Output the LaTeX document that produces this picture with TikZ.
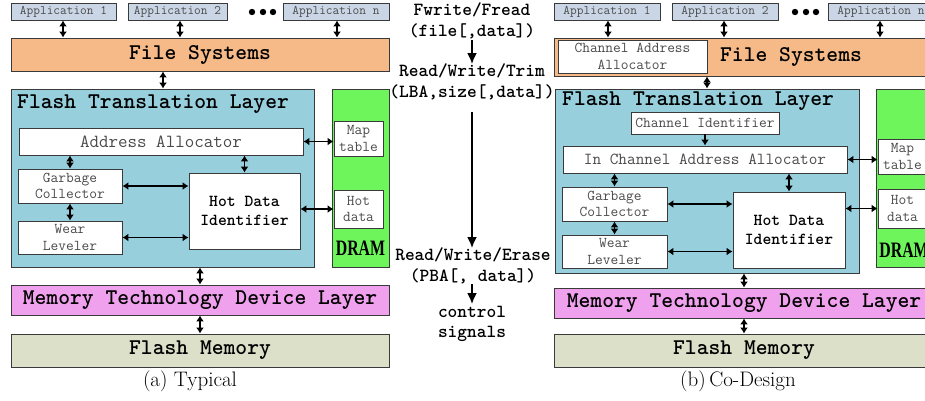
\documentclass[tikz,border=0pt]{standalone}
\usepackage{graphicx}
\usepackage{fontspec}
\newfontfamily\dramfont{Liberation Serif}
\usetikzlibrary{arrows.meta}

\definecolor{edge}{HTML}{3A3A3A}
\definecolor{appfill}{HTML}{CAD6E6}
\definecolor{fsfill}{HTML}{F6BA88}
\definecolor{ftlfill}{HTML}{97CFDD}
\definecolor{dramfill}{HTML}{6EF55C}
\definecolor{mtdfill}{HTML}{F0A1EE}
\definecolor{fmfill}{HTML}{DDE0C8}
\definecolor{softtext}{HTML}{4A4A4A}

% box from corner (x1,y1) to corner (x2,y2), y measured downwards
\newcommand\rbox[7]{%
  \node[#6, minimum width={(#4)-(#2)}, minimum height={(#5)-(#3)}]
    (#1) at ({((#2)+(#4))/2},{((#3)+(#5))/2}) {#7};}

\tikzset{
  box/.style={draw=edge, line width=0.9pt, inner sep=0pt, align=center},
  appbox/.style={box, fill=appfill, text=softtext,
    font=\ttfamily\fontsize{13}{14}\selectfont},
  layerbox/.style={box, font=\ttfamily\bfseries\fontsize{22.5}{24}\selectfont},
  titletext/.style={inner sep=0pt, font=\ttfamily\bfseries\fontsize{22.5}{24}\selectfont},
  inbox/.style={box, fill=white, text=softtext,
    font=\ttfamily\fontsize{15}{16.5}\selectfont},
  hdibox/.style={box, fill=white,
    font=\ttfamily\bfseries\fontsize{16.8}{19}\selectfont},
  dramtext/.style={inner sep=0pt, font=\dramfont\bfseries\fontsize{22}{22}\selectfont},
  dbl/.style={{Latex[length=6pt,width=8pt]}-{Latex[length=6pt,width=8pt]},
    line width=1.5pt},
  sgl/.style={-{Latex[length=6pt,width=8pt]}, line width=1.5pt},
  flow/.style={-{Latex[length=11pt,width=10pt]}, line width=1.8pt},
  midtext/.style={inner sep=0pt, align=center,
    font=\ttfamily\bfseries\fontsize{18.5}{20.5}\selectfont},
  caption/.style={inner sep=0pt, font=\fontsize{21}{23}\selectfont},
  dot/.style={fill=black}
}

\begin{document}
\begin{tikzpicture}[x=1pt, y=-1pt]
\useasboundingbox (0,0) rectangle (925,400);
\begin{scope}
\clip (0,0) rectangle (925,400);

% ---------------- (a) Typical ----------------
\rbox{app1}{11}{3}{116}{20}{appbox}{Application 1}
\rbox{app2}{128}{3}{227}{20}{appbox}{Application 2}
\rbox{appn}{283}{3}{389}{20}{appbox}{Application n}
\foreach \dx in {252,263,273} \fill[dot] (\dx,12) circle (3.2);

\rbox{fs}{11}{38}{389}{71}{layerbox, fill=fsfill}{File Systems}

\rbox{ftl}{11}{89}{314}{267}{box, fill=ftlfill}{}
\node[titletext, anchor=west] (ftlT) at (17,104) {Flash Translation Layer};
\rbox{aa}{19}{128}{303}{155}{inbox, font=\ttfamily\fontsize{18.5}{20}\selectfont}{Address Allocator}
\rbox{gc}{18}{169}{122}{203}{inbox}{Garbage\\Collector}
\rbox{wl}{18}{221}{122}{254}{inbox}{Wear\\Leveler}
\rbox{hdi}{189}{173}{300}{249}{hdibox}{Hot Data\\Identifier}

\rbox{dram}{332}{89}{389}{267}{box, fill=dramfill}{}
\rbox{map}{334}{121}{383}{156}{inbox}{Map\\table}
\rbox{hot}{334}{190}{383}{228}{inbox}{Hot\\data}
\node[dramtext] (dramT) at (360.5,248) {\scalebox{0.72}[1]{DRAM}};

\rbox{mtd}{11}{285}{389}{315}{layerbox, fill=mtdfill}{Memory Technology Device Layer}
\rbox{fm}{11}{334}{389}{367}{layerbox, fill=fmfill}{Flash Memory}
\node[caption] (capA) at (190,381) {(a) Typical};

\draw[dbl] (63,0 |- app1.south) -- (63,0 |- fs.north);
\draw[dbl] (180,0 |- app2.south) -- (180,0 |- fs.north);
\draw[dbl] (337,0 |- appn.south) -- (337,0 |- fs.north);
\draw[dbl] (163,0 |- fs.south) -- (163,0 |- ftl.north);
\draw[dbl] (gc.north) -- (gc.north |- aa.south);
\draw[dbl] (gc.south) -- (wl.north);
\draw[dbl] (hdi.north) -- (hdi.north |- aa.south);
\draw[dbl] (gc.east) -- (gc.east -| hdi.west);
\draw[dbl] (wl.east) -- (wl.east -| hdi.west);
\draw[dbl] (aa.east) -- (aa.east -| map.west);
\draw[dbl] (hot.west -| hdi.east) -- (hot.west);
\draw[dbl] (200,0 |- ftl.south) -- (200,0 |- mtd.north);
\draw[dbl] (200,0 |- mtd.south) -- (200,0 |- fm.north);

% ---------------- interface commands ----------------
\node[midtext] (cmdA) at (472,21) {Fwrite/Fread\\(file[,data])};
\node[midtext] (cmdB) at (472,82) {Read/Write/Trim\\(LBA,size[,data])};
\node[midtext] (cmdC) at (473,266) {Read/Write/Erase\\(PBA[, data])};
\node[midtext] (cmdD) at (472,324) {control\\signals};
\coordinate (fA) at (472,40);
\coordinate (fB) at (472,64);
\coordinate (fC) at (472,112);
\coordinate (fD) at (472,248);
\coordinate (fE) at (472,284);
\coordinate (fF) at (472,304);
\draw[flow] (fA) -- (fB);
\draw[flow] (fC) -- (fD);
\draw[flow] (fE) -- (fF);

% ---------------- (b) Co-Design ----------------
\rbox{rapp1}{554}{3}{660}{20}{appbox}{Application 1}
\rbox{rapp2}{672}{3}{778}{20}{appbox}{Application 2}
\rbox{rappn}{828}{3}{934}{20}{appbox}{Application n}
\foreach \dx in {795,806,816} \fill[dot] (\dx,12) circle (3.2);

\rbox{rfs}{554}{38}{934}{76}{box, fill=fsfill}{}
\rbox{rcaa}{558}{40}{707}{73}{inbox}{Channel Address\\Allocator}
\node[titletext] (rfsT) at (791,57) {File Systems};

\rbox{rftl}{555}{89}{859}{273}{box, fill=ftlfill}{}
\node[titletext, anchor=west] (rftlT) at (562,101) {Flash Translation Layer};
\rbox{rci}{631}{112}{779}{134}{inbox}{Channel Identifier}
\rbox{ricaa}{563}{146}{847}{173}{inbox, font=\ttfamily\fontsize{16.8}{18}\selectfont}{In Channel Address Allocator}
\rbox{rgc}{562}{187}{667}{221}{inbox}{Garbage\\Collector}
\rbox{rwl}{562}{235}{667}{268}{inbox}{Wear\\Leveler}
\rbox{rhdi}{733}{192}{845}{268}{hdibox}{Hot Data\\Identifier}

\rbox{rdram}{876}{89}{934}{267}{box, fill=dramfill}{}
\rbox{rmap}{878}{139}{927}{174}{inbox}{Map\\table}
\rbox{rhot}{878}{189}{927}{228}{inbox}{Hot\\data}
\node[dramtext] (rdramT) at (904,250) {\scalebox{0.72}[1]{DRAM}};

\rbox{rmtd}{554}{288}{934}{318}{layerbox, fill=mtdfill}{Memory Technology Device Layer}
\rbox{rfm}{554}{334}{934}{367}{layerbox, fill=fmfill}{Flash Memory}
\node[caption] (capB) at (738,381) {(b)\,Co-Design};

\draw[dbl] (608,0 |- rapp1.south) -- (608,0 |- rfs.north);
\draw[dbl] (724,0 |- rapp2.south) -- (724,0 |- rfs.north);
\draw[dbl] (880,0 |- rappn.south) -- (880,0 |- rfs.north);
\draw[dbl] (707,0 |- rfs.south) -- (707,0 |- rftl.north);
\draw[sgl] (rci.south) -- (rci.south |- ricaa.north);
\draw[dbl] (rgc.north) -- (rgc.north |- ricaa.south);
\draw[dbl] (rgc.south) -- (rwl.north);
\draw[dbl] (rhdi.north) -- (rhdi.north |- ricaa.south);
\draw[dbl] (rgc.east) -- (rgc.east -| rhdi.west);
\draw[dbl] (rwl.east) -- (rwl.east -| rhdi.west);
\draw[dbl] (ricaa.east) -- (ricaa.east -| rmap.west);
\draw[dbl] (rhot.west -| rhdi.east) -- (rhot.west);
\draw[dbl] (744,0 |- rftl.south) -- (744,0 |- rmtd.north);
\draw[dbl] (744,0 |- rmtd.south) -- (744,0 |- rfm.north);
\end{scope}
\end{tikzpicture}
\end{document}
